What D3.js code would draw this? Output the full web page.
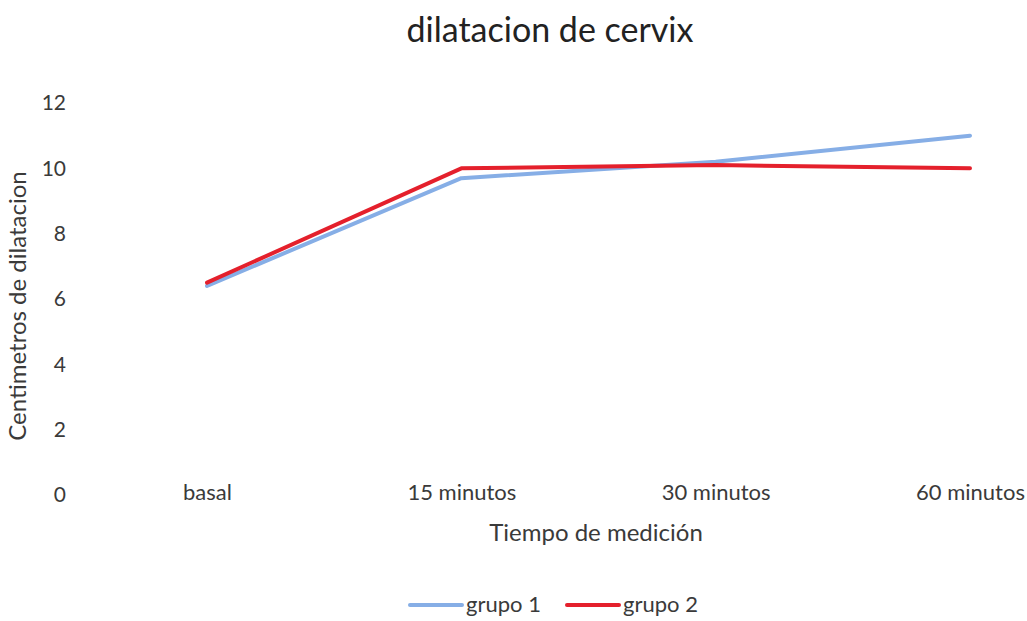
<!DOCTYPE html>
<html>
<head>
<meta charset="utf-8">
<script src="https://cdn.jsdelivr.net/npm/d3@7"></script>
<style>
  html, body { margin: 0; padding: 0; background: #fff; }
  svg text { font-family: "Lato", "Open Sans", sans-serif; fill: #3a3a3a; }
</style>
</head>
<body>
<svg id="chart" width="1027" height="621"></svg>
<script>
// Cervical dilation (cm) over time for two groups
const categories = ["basal", "15 minutos", "30 minutos", "60 minutos"];
const grupo1 = [6.4, 9.7, 10.2, 11.0];
const grupo2 = [6.5, 10.0, 10.1, 10.0];
const yTicks = [0, 2, 4, 6, 8, 10, 12];
const seriesNames = ["grupo 1", "grupo 2"];
const seriesColors = ["#86aee6", "#e4202c"];

const svg = d3.select("#chart");

const x = d3.scalePoint().domain(categories).range([207, 970]);
const y = d3.scaleLinear().domain([0, 12]).range([495, 103]);

// Title
svg.append("text")
  .attr("x", 550).attr("y", 42)
  .attr("text-anchor", "middle")
  .style("font-size", "34px")
  .style("fill", "#222")
  .text("dilatacion de cervix");

// Y axis: labels only, no line or ticks
const yAxis = svg.append("g")
  .attr("transform", "translate(66,0)")
  .call(d3.axisLeft(y).tickValues(yTicks).tickSize(0).tickPadding(0));
yAxis.select(".domain").remove();
yAxis.selectAll("text")
  .style("font-family", "Lato, 'Open Sans', sans-serif")
  .style("font-size", "21px")
  .style("fill", "#3a3a3a");

// X axis: labels only
const xAxis = svg.append("g")
  .attr("transform", "translate(0,484)")
  .call(d3.axisBottom(x).tickSize(0).tickPadding(0));
xAxis.select(".domain").remove();
xAxis.selectAll("text")
  .style("font-family", "Lato, 'Open Sans', sans-serif")
  .style("font-size", "22px")
  .style("fill", "#3a3a3a");

// Axis titles
svg.append("text")
  .attr("transform", "translate(26,306) rotate(-90)")
  .attr("text-anchor", "middle")
  .style("font-size", "24px")
  .text("Centimetros de dilatacion");

svg.append("text")
  .attr("x", 596).attr("y", 541)
  .attr("text-anchor", "middle")
  .style("font-size", "24px")
  .text("Tiempo de medición");

// Lines
const line = d3.line()
  .x((d, i) => x(categories[i]))
  .y(d => y(d));

[grupo1, grupo2].forEach((vals, k) => {
  svg.append("path")
    .datum(vals)
    .attr("d", line)
    .attr("fill", "none")
    .attr("stroke", seriesColors[k])
    .attr("stroke-width", 4)
    .attr("stroke-linejoin", "round")
    .attr("stroke-linecap", "round");
});

// Legend
const legend = svg.append("g").attr("transform", "translate(410,605)");
const legendX = d3.scaleOrdinal().domain(seriesNames).range([0, 157]);
seriesNames.forEach((name, k) => {
  const g = legend.append("g").attr("transform", `translate(${legendX(name)},0)`);
  g.append("line")
    .attr("x1", 0).attr("x2", 52).attr("y1", 0).attr("y2", 0)
    .attr("stroke", seriesColors[k]).attr("stroke-width", 4)
    .attr("stroke-linecap", "round");
  g.append("text")
    .attr("x", 56).attr("y", 7)
    .style("font-size", "22px")
    .text(name);
});
</script>
</body>
</html>
